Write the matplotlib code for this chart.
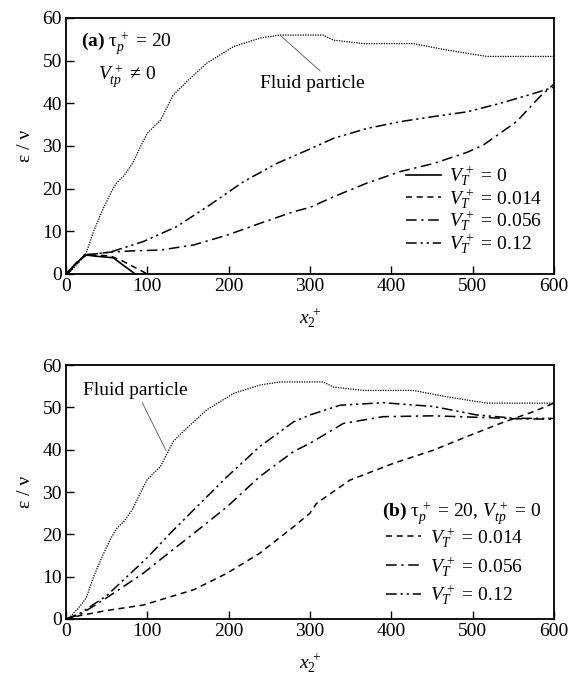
import matplotlib
matplotlib.use("Agg")
import matplotlib.pyplot as plt

plt.rcParams['font.family'] = ['Liberation Serif', 'DejaVu Serif']
plt.rcParams['mathtext.fontset'] = 'custom'
plt.rcParams['mathtext.rm'] = 'Liberation Serif'
plt.rcParams['mathtext.it'] = 'Liberation Serif:italic'
plt.rcParams['mathtext.bf'] = 'Liberation Serif:bold'

# fluid particle curve (same in both panels)
fluid_x = [0, 5, 15, 25, 34, 45, 55, 62, 71, 82, 92, 100, 116, 132, 148, 173, 206,
           239, 263, 300, 316, 329, 366, 427, 468, 517, 600]
fluid_y = [0, 0.5, 2.5, 5, 10, 15, 19, 21.3, 23, 26, 30, 33, 36, 42, 45, 49.4, 53.3,
           55.3, 56, 56, 56, 54.8, 54, 54, 52.5, 51, 51]

# panel (a): V_tp+ != 0
a_vt0_x = [0, 3, 10, 18, 23, 35, 52, 58, 85]
a_vt0_y = [0, 0.2, 2, 3.5, 4.5, 4.2, 3.9, 3.8, 0]
a_vt014_x = [0, 5, 12, 20, 25, 40, 55, 70, 85, 100]
a_vt014_y = [0, 1, 2.5, 3.8, 4.5, 4.4, 4.2, 3, 1.5, 0]
a_vt056_x = [0, 10, 25, 54, 80, 116, 157, 198, 239, 280, 300, 329, 370, 411, 452,
             493, 513, 554, 583, 600]
a_vt056_y = [0, 2, 4.5, 5.1, 5.4, 5.6, 6.8, 9.1, 11.9, 14.6, 15.6, 18.1, 21.3, 24,
             25.9, 28.5, 30.2, 35.7, 41.6, 44.5]
a_vt12_x = [0, 10, 25, 54, 95, 136, 177, 218, 259, 300, 329, 370, 411, 452, 493,
            534, 575, 600]
a_vt12_y = [0, 2, 4.5, 5.1, 7.6, 11.1, 16.2, 21.6, 25.9, 29.3, 31.8, 34.1, 35.7,
            36.9, 38, 40, 42.3, 43.8]

# panel (b): V_tp+ = 0
b_vt014_x = [0, 17, 50, 95, 157, 198, 238, 280, 300, 308, 349, 403, 452, 493, 534,
             575, 600]
b_vt014_y = [0, 0.8, 2, 3.3, 6.9, 10.8, 15.5, 21.8, 25, 27.3, 32.8, 36.8, 39.9,
             43.1, 46.2, 49, 51]
b_vt056_x = [0, 17, 50, 95, 125, 157, 198, 238, 280, 300, 341, 390, 452, 513, 554,
             600]
b_vt056_y = [0, 1, 5, 10.8, 15.4, 20.2, 26.5, 33.6, 39.6, 41.5, 46.2, 47.8, 48,
             47.6, 47.3, 47.2]
b_vt12_x = [0, 17, 50, 75, 100, 128, 165, 198, 238, 280, 300, 337, 390, 452, 505,
            554, 600]
b_vt12_y = [0, 1.3, 5.5, 10, 14.5, 20.2, 27.3, 33.6, 40.7, 46.6, 48.2, 50.5, 51.1,
            50.2, 48.2, 47.4, 47.4]

x_ticks = [0, 100, 200, 300, 400, 500, 600]
y_ticks = [0, 10, 20, 30, 40, 50, 60]

FS = 14
ls_fluid = (0, (1, 1))
ls_dash = (0, (4, 3))
ls_dashdot = (0, (7, 3, 1.5, 3))
ls_dashdotdot = (0, (7, 2.5, 1.5, 2.5, 1.5, 2.5))

fig = plt.figure(figsize=(5.7, 6.79), dpi=100)
ax_a = fig.add_axes([0.1158, 0.5965, 0.856, 0.377])
ax_b = fig.add_axes([0.1158, 0.0884, 0.856, 0.374])

for ax in (ax_a, ax_b):
    ax.set_xlim(0, 600)
    ax.set_ylim(0, 60)
    ax.set_xticks(x_ticks)
    ax.set_yticks(y_ticks)
    ax.tick_params(direction='in', length=6, width=1, labelsize=FS, pad=3)
    for s in ax.spines.values():
        s.set_linewidth(1.3)
    ax.set_xlabel(r'$x_2^{\,+}$', fontsize=FS, labelpad=8)
    ax.set_ylabel('ε / ν', fontsize=FS, labelpad=6)
    ax.plot(fluid_x, fluid_y, color='black', lw=0.9, linestyle=ls_fluid)

# ---- panel (a) ----
ax_a.plot(a_vt0_x, a_vt0_y, color='black', lw=1.2, label=r'$V_T^{\,+}$ = 0')
ax_a.plot(a_vt014_x, a_vt014_y, color='black', lw=1.1, linestyle=ls_dash,
          label=r'$V_T^{\,+}$ = 0.014')
ax_a.plot(a_vt056_x, a_vt056_y, color='black', lw=1.1, linestyle=ls_dashdot,
          label=r'$V_T^{\,+}$ = 0.056')
ax_a.plot(a_vt12_x, a_vt12_y, color='black', lw=1.1, linestyle=ls_dashdotdot,
          label=r'$V_T^{\,+}$ = 0.12')
ax_a.legend(loc='upper left', bbox_to_anchor=(0.697, 0.43),
            frameon=False, fontsize=FS, handlelength=1.8, handletextpad=0.4,
            labelspacing=-0.06, borderpad=0, borderaxespad=0)
ax_a.text(19, 54, r'$\mathbf{(a)}$ τ$_{p}^{\,+}$ = 20', fontsize=FS, va='center')
ax_a.text(39, 46.2, r'$V_{tp}^{\,+}$ ≠ 0', fontsize=FS, va='center')
ax_a.annotate('Fluid particle', xy=(263, 56), xytext=(238, 44.7), fontsize=FS,
              va='center', ha='left',
              arrowprops=dict(arrowstyle='-', lw=0.6, color='#555555',
                              relpos=(0.62, 1.0), shrinkA=1, shrinkB=0))

# ---- panel (b) ----
ax_b.plot(b_vt014_x, b_vt014_y, color='black', lw=1.1, linestyle=ls_dash,
          label=r'$V_T^{\,+}$ = 0.014')
ax_b.plot(b_vt056_x, b_vt056_y, color='black', lw=1.1, linestyle=ls_dashdot,
          label=r'$V_T^{\,+}$ = 0.056')
ax_b.plot(b_vt12_x, b_vt12_y, color='black', lw=1.1, linestyle=ls_dashdotdot,
          label=r'$V_T^{\,+}$ = 0.12')
ax_b.legend(loc='upper left', bbox_to_anchor=(0.655, 0.367),
            frameon=False, fontsize=FS, handlelength=1.8, handletextpad=0.5,
            labelspacing=0.25, borderpad=0, borderaxespad=0)
ax_b.text(388, 24.8, r'$\mathbf{(b)}$ τ$_{p}^{\,+}$ = 20, $V_{tp}^{\,+}$ = 0',
          fontsize=FS, va='center')
ax_b.annotate('Fluid particle', xy=(123, 39.8), xytext=(20.5, 54.1), fontsize=FS,
              va='center', ha='left',
              arrowprops=dict(arrowstyle='-', lw=0.6, color='#555555',
                              relpos=(0.55, 0.0), shrinkA=1, shrinkB=0))

fig.savefig('out.png', dpi=100)
